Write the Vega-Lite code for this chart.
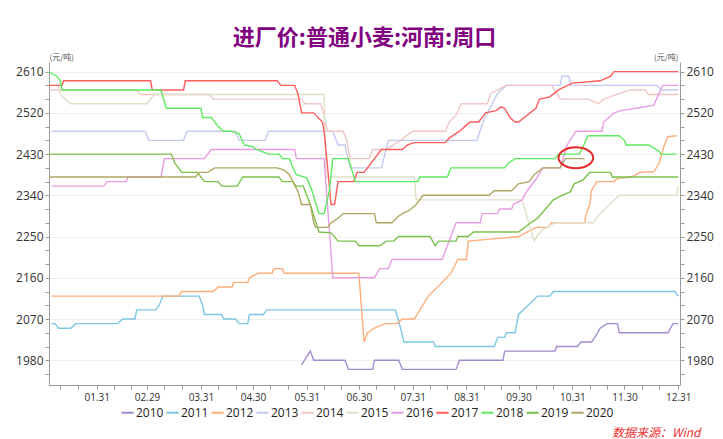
{
"$schema": "https://vega.github.io/schema/vega-lite/v6.json",
"width": 631, "height": 323,
"autosize": {"type": "none"},
"padding": {"left": 49, "top": 62, "right": 43, "bottom": 54},
"background": "white",
"title": {"text": "进厂价:普通小麦:河南:周口", "font": "Noto Sans CJK SC", "fontSize": 22, "fontWeight": "bold", "color": "#800080", "anchor": "middle", "offset": 3},
"config": {"view": {"stroke": null}, "font": "Open Sans",
  "axis": {"domainColor": "#9a9a9a", "tickColor": "#9a9a9a", "labelColor": "#333333", "labelFont": "Open Sans", "labelOverlap": false, "labelFlush": false, "labelBound": false}},
"datasets": {
"lines": [
{"s":"2010","d":"2020-05-28","v":1970},{"s":"2010","d":"2020-06-02","v":2000},{"s":"2010","d":"2020-06-04","v":1980},{"s":"2010","d":"2020-06-22","v":1980},{"s":"2010","d":"2020-06-24","v":1960},{"s":"2010","d":"2020-07-08","v":1960},{"s":"2010","d":"2020-07-09","v":1980},{"s":"2010","d":"2020-07-23","v":1980},{"s":"2010","d":"2020-07-25","v":1960},{"s":"2010","d":"2020-08-25","v":1960},{"s":"2010","d":"2020-08-27","v":1980},{"s":"2010","d":"2020-09-21","v":1980},{"s":"2010","d":"2020-09-22","v":2000},{"s":"2010","d":"2020-10-21","v":2000},{"s":"2010","d":"2020-10-22","v":2010},{"s":"2010","d":"2020-11-03","v":2010},{"s":"2010","d":"2020-11-05","v":2020},{"s":"2010","d":"2020-11-11","v":2020},{"s":"2010","d":"2020-11-13","v":2030},{"s":"2010","d":"2020-11-16","v":2050},{"s":"2010","d":"2020-11-20","v":2060},{"s":"2010","d":"2020-11-26","v":2060},{"s":"2010","d":"2020-11-27","v":2040},{"s":"2010","d":"2020-12-25","v":2040},{"s":"2010","d":"2020-12-28","v":2060},{"s":"2010","d":"2020-12-31","v":2060},
{"s":"2011","d":"2020-01-05","v":2060},{"s":"2011","d":"2020-01-07","v":2060},{"s":"2011","d":"2020-01-09","v":2050},{"s":"2011","d":"2020-01-16","v":2050},{"s":"2011","d":"2020-01-19","v":2060},{"s":"2011","d":"2020-02-12","v":2060},{"s":"2011","d":"2020-02-15","v":2070},{"s":"2011","d":"2020-02-22","v":2070},{"s":"2011","d":"2020-02-23","v":2090},{"s":"2011","d":"2020-03-05","v":2090},{"s":"2011","d":"2020-03-07","v":2100},{"s":"2011","d":"2020-03-09","v":2120},{"s":"2011","d":"2020-03-30","v":2120},{"s":"2011","d":"2020-04-01","v":2100},{"s":"2011","d":"2020-04-02","v":2080},{"s":"2011","d":"2020-04-12","v":2080},{"s":"2011","d":"2020-04-13","v":2070},{"s":"2011","d":"2020-04-20","v":2070},{"s":"2011","d":"2020-04-22","v":2060},{"s":"2011","d":"2020-04-27","v":2060},{"s":"2011","d":"2020-04-28","v":2080},{"s":"2011","d":"2020-05-06","v":2080},{"s":"2011","d":"2020-05-08","v":2090},{"s":"2011","d":"2020-07-21","v":2090},{"s":"2011","d":"2020-07-23","v":2065},{"s":"2011","d":"2020-07-26","v":2020},{"s":"2011","d":"2020-08-12","v":2020},{"s":"2011","d":"2020-08-13","v":2010},{"s":"2011","d":"2020-09-16","v":2010},{"s":"2011","d":"2020-09-18","v":2030},{"s":"2011","d":"2020-09-22","v":2030},{"s":"2011","d":"2020-09-23","v":2040},{"s":"2011","d":"2020-09-28","v":2040},{"s":"2011","d":"2020-09-30","v":2080},{"s":"2011","d":"2020-10-11","v":2120},{"s":"2011","d":"2020-10-18","v":2120},{"s":"2011","d":"2020-10-20","v":2130},{"s":"2011","d":"2020-12-29","v":2130},{"s":"2011","d":"2020-12-31","v":2120},
{"s":"2012","d":"2020-01-05","v":2120},{"s":"2012","d":"2020-03-18","v":2120},{"s":"2012","d":"2020-03-20","v":2130},{"s":"2012","d":"2020-04-07","v":2130},{"s":"2012","d":"2020-04-10","v":2140},{"s":"2012","d":"2020-04-18","v":2140},{"s":"2012","d":"2020-04-19","v":2150},{"s":"2012","d":"2020-04-27","v":2150},{"s":"2012","d":"2020-04-28","v":2160},{"s":"2012","d":"2020-05-03","v":2170},{"s":"2012","d":"2020-05-11","v":2170},{"s":"2012","d":"2020-05-12","v":2180},{"s":"2012","d":"2020-05-17","v":2180},{"s":"2012","d":"2020-05-18","v":2170},{"s":"2012","d":"2020-06-30","v":2170},{"s":"2012","d":"2020-07-03","v":2020},{"s":"2012","d":"2020-07-05","v":2040},{"s":"2012","d":"2020-07-09","v":2050},{"s":"2012","d":"2020-07-15","v":2060},{"s":"2012","d":"2020-07-22","v":2060},{"s":"2012","d":"2020-07-25","v":2070},{"s":"2012","d":"2020-08-01","v":2070},{"s":"2012","d":"2020-08-09","v":2120},{"s":"2012","d":"2020-08-17","v":2150},{"s":"2012","d":"2020-08-22","v":2170},{"s":"2012","d":"2020-08-26","v":2200},{"s":"2012","d":"2020-08-31","v":2200},{"s":"2012","d":"2020-09-01","v":2240},{"s":"2012","d":"2020-09-30","v":2250},{"s":"2012","d":"2020-10-10","v":2270},{"s":"2012","d":"2020-10-17","v":2270},{"s":"2012","d":"2020-10-19","v":2280},{"s":"2012","d":"2020-11-07","v":2280},{"s":"2012","d":"2020-11-08","v":2300},{"s":"2012","d":"2020-11-10","v":2320},{"s":"2012","d":"2020-11-11","v":2350},{"s":"2012","d":"2020-11-14","v":2370},{"s":"2012","d":"2020-11-24","v":2370},{"s":"2012","d":"2020-11-26","v":2377},{"s":"2012","d":"2020-12-04","v":2380},{"s":"2012","d":"2020-12-09","v":2390},{"s":"2012","d":"2020-12-17","v":2392},{"s":"2012","d":"2020-12-20","v":2410},{"s":"2012","d":"2020-12-23","v":2450},{"s":"2012","d":"2020-12-25","v":2468},{"s":"2012","d":"2020-12-30","v":2470},
{"s":"2013","d":"2020-01-05","v":2480},{"s":"2013","d":"2020-02-28","v":2480},{"s":"2013","d":"2020-03-01","v":2460},{"s":"2013","d":"2020-03-21","v":2460},{"s":"2013","d":"2020-03-23","v":2480},{"s":"2013","d":"2020-04-20","v":2480},{"s":"2013","d":"2020-04-22","v":2460},{"s":"2013","d":"2020-05-07","v":2460},{"s":"2013","d":"2020-05-09","v":2480},{"s":"2013","d":"2020-06-15","v":2480},{"s":"2013","d":"2020-06-18","v":2450},{"s":"2013","d":"2020-06-22","v":2450},{"s":"2013","d":"2020-06-25","v":2400},{"s":"2013","d":"2020-07-13","v":2400},{"s":"2013","d":"2020-07-17","v":2460},{"s":"2013","d":"2020-09-06","v":2460},{"s":"2013","d":"2020-09-10","v":2505},{"s":"2013","d":"2020-09-18","v":2563},{"s":"2013","d":"2020-09-23","v":2580},{"s":"2013","d":"2020-10-24","v":2580},{"s":"2013","d":"2020-10-25","v":2600},{"s":"2013","d":"2020-10-29","v":2600},{"s":"2013","d":"2020-10-30","v":2580},{"s":"2013","d":"2020-12-19","v":2580},{"s":"2013","d":"2020-12-21","v":2570},{"s":"2013","d":"2020-12-31","v":2570},
{"s":"2014","d":"2020-01-03","v":2570},{"s":"2014","d":"2020-02-23","v":2570},{"s":"2014","d":"2020-02-25","v":2560},{"s":"2014","d":"2020-04-05","v":2560},{"s":"2014","d":"2020-04-07","v":2550},{"s":"2014","d":"2020-05-28","v":2550},{"s":"2014","d":"2020-05-30","v":2540},{"s":"2014","d":"2020-06-08","v":2540},{"s":"2014","d":"2020-06-10","v":2515},{"s":"2014","d":"2020-06-12","v":2480},{"s":"2014","d":"2020-06-21","v":2480},{"s":"2014","d":"2020-06-23","v":2460},{"s":"2014","d":"2020-06-25","v":2420},{"s":"2014","d":"2020-07-06","v":2420},{"s":"2014","d":"2020-07-08","v":2440},{"s":"2014","d":"2020-07-16","v":2440},{"s":"2014","d":"2020-07-24","v":2460},{"s":"2014","d":"2020-07-31","v":2480},{"s":"2014","d":"2020-08-19","v":2480},{"s":"2014","d":"2020-08-21","v":2500},{"s":"2014","d":"2020-08-25","v":2515},{"s":"2014","d":"2020-08-28","v":2540},{"s":"2014","d":"2020-09-12","v":2540},{"s":"2014","d":"2020-09-14","v":2563},{"s":"2014","d":"2020-09-23","v":2580},{"s":"2014","d":"2020-10-19","v":2580},{"s":"2014","d":"2020-10-24","v":2550},{"s":"2014","d":"2020-11-09","v":2550},{"s":"2014","d":"2020-11-15","v":2540},{"s":"2014","d":"2020-11-18","v":2550},{"s":"2014","d":"2020-12-03","v":2570},{"s":"2014","d":"2020-12-12","v":2570},{"s":"2014","d":"2020-12-14","v":2560},{"s":"2014","d":"2020-12-31","v":2560},
{"s":"2015","d":"2020-01-03","v":2580},{"s":"2015","d":"2020-01-09","v":2580},{"s":"2015","d":"2020-01-10","v":2560},{"s":"2015","d":"2020-01-16","v":2540},{"s":"2015","d":"2020-02-29","v":2540},{"s":"2015","d":"2020-03-04","v":2560},{"s":"2015","d":"2020-06-10","v":2560},{"s":"2015","d":"2020-06-11","v":2380},{"s":"2015","d":"2020-08-01","v":2380},{"s":"2015","d":"2020-08-02","v":2330},{"s":"2015","d":"2020-10-02","v":2330},{"s":"2015","d":"2020-10-09","v":2240},{"s":"2015","d":"2020-10-11","v":2253},{"s":"2015","d":"2020-10-14","v":2265},{"s":"2015","d":"2020-10-17","v":2272},{"s":"2015","d":"2020-10-21","v":2280},{"s":"2015","d":"2020-11-12","v":2280},{"s":"2015","d":"2020-11-16","v":2300},{"s":"2015","d":"2020-11-27","v":2340},{"s":"2015","d":"2020-12-30","v":2340},{"s":"2015","d":"2020-12-31","v":2360},
{"s":"2016","d":"2020-01-05","v":2360},{"s":"2016","d":"2020-02-04","v":2360},{"s":"2016","d":"2020-02-06","v":2370},{"s":"2016","d":"2020-02-17","v":2370},{"s":"2016","d":"2020-02-18","v":2380},{"s":"2016","d":"2020-03-08","v":2380},{"s":"2016","d":"2020-03-10","v":2420},{"s":"2016","d":"2020-04-02","v":2420},{"s":"2016","d":"2020-04-06","v":2440},{"s":"2016","d":"2020-05-24","v":2440},{"s":"2016","d":"2020-05-25","v":2420},{"s":"2016","d":"2020-06-10","v":2420},{"s":"2016","d":"2020-06-15","v":2160},{"s":"2016","d":"2020-07-09","v":2160},{"s":"2016","d":"2020-07-12","v":2180},{"s":"2016","d":"2020-07-17","v":2180},{"s":"2016","d":"2020-07-19","v":2200},{"s":"2016","d":"2020-08-17","v":2200},{"s":"2016","d":"2020-08-19","v":2220},{"s":"2016","d":"2020-08-25","v":2280},{"s":"2016","d":"2020-09-08","v":2280},{"s":"2016","d":"2020-09-09","v":2300},{"s":"2016","d":"2020-09-18","v":2300},{"s":"2016","d":"2020-09-19","v":2310},{"s":"2016","d":"2020-09-26","v":2310},{"s":"2016","d":"2020-09-27","v":2320},{"s":"2016","d":"2020-10-02","v":2330},{"s":"2016","d":"2020-10-05","v":2350},{"s":"2016","d":"2020-10-10","v":2375},{"s":"2016","d":"2020-10-14","v":2400},{"s":"2016","d":"2020-10-24","v":2400},{"s":"2016","d":"2020-10-28","v":2450},{"s":"2016","d":"2020-11-02","v":2480},{"s":"2016","d":"2020-11-17","v":2480},{"s":"2016","d":"2020-11-18","v":2500},{"s":"2016","d":"2020-11-24","v":2520},{"s":"2016","d":"2020-11-28","v":2525},{"s":"2016","d":"2020-12-07","v":2530},{"s":"2016","d":"2020-12-17","v":2537},{"s":"2016","d":"2020-12-19","v":2555},{"s":"2016","d":"2020-12-22","v":2580},{"s":"2016","d":"2020-12-31","v":2580},
{"s":"2017","d":"2020-01-03","v":2580},{"s":"2017","d":"2020-01-11","v":2580},{"s":"2017","d":"2020-01-12","v":2590},{"s":"2017","d":"2020-03-02","v":2590},{"s":"2017","d":"2020-03-03","v":2570},{"s":"2017","d":"2020-03-21","v":2570},{"s":"2017","d":"2020-03-22","v":2590},{"s":"2017","d":"2020-05-14","v":2590},{"s":"2017","d":"2020-05-16","v":2580},{"s":"2017","d":"2020-05-24","v":2580},{"s":"2017","d":"2020-05-26","v":2560},{"s":"2017","d":"2020-05-28","v":2520},{"s":"2017","d":"2020-06-04","v":2520},{"s":"2017","d":"2020-06-09","v":2500},{"s":"2017","d":"2020-06-10","v":2480},{"s":"2017","d":"2020-06-14","v":2320},{"s":"2017","d":"2020-06-16","v":2320},{"s":"2017","d":"2020-06-18","v":2370},{"s":"2017","d":"2020-06-27","v":2370},{"s":"2017","d":"2020-06-29","v":2390},{"s":"2017","d":"2020-07-03","v":2390},{"s":"2017","d":"2020-07-07","v":2410},{"s":"2017","d":"2020-07-10","v":2425},{"s":"2017","d":"2020-07-13","v":2440},{"s":"2017","d":"2020-07-25","v":2440},{"s":"2017","d":"2020-07-28","v":2450},{"s":"2017","d":"2020-08-01","v":2455},{"s":"2017","d":"2020-08-19","v":2455},{"s":"2017","d":"2020-08-21","v":2465},{"s":"2017","d":"2020-08-27","v":2480},{"s":"2017","d":"2020-08-30","v":2490},{"s":"2017","d":"2020-09-02","v":2500},{"s":"2017","d":"2020-09-07","v":2500},{"s":"2017","d":"2020-09-11","v":2520},{"s":"2017","d":"2020-09-17","v":2525},{"s":"2017","d":"2020-09-20","v":2533},{"s":"2017","d":"2020-09-22","v":2530},{"s":"2017","d":"2020-09-25","v":2510},{"s":"2017","d":"2020-09-28","v":2500},{"s":"2017","d":"2020-09-30","v":2500},{"s":"2017","d":"2020-10-10","v":2530},{"s":"2017","d":"2020-10-12","v":2550},{"s":"2017","d":"2020-10-18","v":2555},{"s":"2017","d":"2020-10-23","v":2570},{"s":"2017","d":"2020-10-31","v":2585},{"s":"2017","d":"2020-11-16","v":2590},{"s":"2017","d":"2020-11-22","v":2600},{"s":"2017","d":"2020-11-24","v":2610},{"s":"2017","d":"2020-12-31","v":2610},
{"s":"2018","d":"2020-01-03","v":2610},{"s":"2018","d":"2020-01-08","v":2600},{"s":"2018","d":"2020-01-10","v":2590},{"s":"2018","d":"2020-01-11","v":2570},{"s":"2018","d":"2020-03-08","v":2570},{"s":"2018","d":"2020-03-11","v":2530},{"s":"2018","d":"2020-03-31","v":2530},{"s":"2018","d":"2020-04-01","v":2510},{"s":"2018","d":"2020-04-06","v":2510},{"s":"2018","d":"2020-04-10","v":2490},{"s":"2018","d":"2020-04-13","v":2480},{"s":"2018","d":"2020-04-17","v":2480},{"s":"2018","d":"2020-04-22","v":2475},{"s":"2018","d":"2020-04-25","v":2450},{"s":"2018","d":"2020-04-30","v":2446},{"s":"2018","d":"2020-05-02","v":2440},{"s":"2018","d":"2020-05-09","v":2430},{"s":"2018","d":"2020-05-15","v":2430},{"s":"2018","d":"2020-05-17","v":2420},{"s":"2018","d":"2020-05-21","v":2420},{"s":"2018","d":"2020-05-23","v":2400},{"s":"2018","d":"2020-05-25","v":2385},{"s":"2018","d":"2020-05-31","v":2378},{"s":"2018","d":"2020-06-03","v":2350},{"s":"2018","d":"2020-06-07","v":2300},{"s":"2018","d":"2020-06-10","v":2300},{"s":"2018","d":"2020-06-13","v":2350},{"s":"2018","d":"2020-06-15","v":2420},{"s":"2018","d":"2020-06-24","v":2420},{"s":"2018","d":"2020-06-28","v":2370},{"s":"2018","d":"2020-08-03","v":2370},{"s":"2018","d":"2020-08-04","v":2380},{"s":"2018","d":"2020-08-20","v":2380},{"s":"2018","d":"2020-08-22","v":2400},{"s":"2018","d":"2020-09-22","v":2400},{"s":"2018","d":"2020-09-24","v":2410},{"s":"2018","d":"2020-09-28","v":2420},{"s":"2018","d":"2020-10-21","v":2420},{"s":"2018","d":"2020-10-23","v":2430},{"s":"2018","d":"2020-11-04","v":2430},{"s":"2018","d":"2020-11-06","v":2445},{"s":"2018","d":"2020-11-09","v":2470},{"s":"2018","d":"2020-11-27","v":2470},{"s":"2018","d":"2020-11-30","v":2460},{"s":"2018","d":"2020-12-01","v":2450},{"s":"2018","d":"2020-12-14","v":2450},{"s":"2018","d":"2020-12-20","v":2436},{"s":"2018","d":"2020-12-21","v":2430},{"s":"2018","d":"2020-12-30","v":2430},
{"s":"2019","d":"2020-01-03","v":2430},{"s":"2019","d":"2020-03-14","v":2430},{"s":"2019","d":"2020-03-16","v":2410},{"s":"2019","d":"2020-03-20","v":2390},{"s":"2019","d":"2020-03-29","v":2390},{"s":"2019","d":"2020-03-31","v":2380},{"s":"2019","d":"2020-04-02","v":2370},{"s":"2019","d":"2020-04-10","v":2370},{"s":"2019","d":"2020-04-12","v":2360},{"s":"2019","d":"2020-04-21","v":2360},{"s":"2019","d":"2020-04-24","v":2380},{"s":"2019","d":"2020-05-15","v":2380},{"s":"2019","d":"2020-05-17","v":2370},{"s":"2019","d":"2020-05-23","v":2370},{"s":"2019","d":"2020-05-25","v":2360},{"s":"2019","d":"2020-05-29","v":2360},{"s":"2019","d":"2020-06-02","v":2320},{"s":"2019","d":"2020-06-07","v":2260},{"s":"2019","d":"2020-06-14","v":2258},{"s":"2019","d":"2020-06-18","v":2240},{"s":"2019","d":"2020-06-28","v":2240},{"s":"2019","d":"2020-06-30","v":2230},{"s":"2019","d":"2020-07-12","v":2230},{"s":"2019","d":"2020-07-16","v":2240},{"s":"2019","d":"2020-07-20","v":2240},{"s":"2019","d":"2020-07-23","v":2250},{"s":"2019","d":"2020-08-10","v":2250},{"s":"2019","d":"2020-08-13","v":2230},{"s":"2019","d":"2020-08-15","v":2240},{"s":"2019","d":"2020-08-25","v":2240},{"s":"2019","d":"2020-08-26","v":2250},{"s":"2019","d":"2020-09-01","v":2250},{"s":"2019","d":"2020-09-04","v":2260},{"s":"2019","d":"2020-09-30","v":2260},{"s":"2019","d":"2020-10-07","v":2280},{"s":"2019","d":"2020-10-11","v":2290},{"s":"2019","d":"2020-10-20","v":2330},{"s":"2019","d":"2020-10-25","v":2340},{"s":"2019","d":"2020-10-30","v":2348},{"s":"2019","d":"2020-11-01","v":2365},{"s":"2019","d":"2020-11-06","v":2373},{"s":"2019","d":"2020-11-10","v":2390},{"s":"2019","d":"2020-11-22","v":2390},{"s":"2019","d":"2020-11-23","v":2380},{"s":"2019","d":"2020-12-31","v":2380},
{"s":"2020","d":"2020-01-03","v":2380},{"s":"2020","d":"2020-03-28","v":2380},{"s":"2020","d":"2020-03-30","v":2390},{"s":"2020","d":"2020-04-04","v":2390},{"s":"2020","d":"2020-04-08","v":2400},{"s":"2020","d":"2020-05-14","v":2400},{"s":"2020","d":"2020-05-18","v":2395},{"s":"2020","d":"2020-05-21","v":2385},{"s":"2020","d":"2020-05-24","v":2362},{"s":"2020","d":"2020-05-26","v":2348},{"s":"2020","d":"2020-05-28","v":2320},{"s":"2020","d":"2020-06-02","v":2320},{"s":"2020","d":"2020-06-04","v":2280},{"s":"2020","d":"2020-06-05","v":2270},{"s":"2020","d":"2020-06-12","v":2270},{"s":"2020","d":"2020-06-14","v":2280},{"s":"2020","d":"2020-06-18","v":2290},{"s":"2020","d":"2020-06-21","v":2300},{"s":"2020","d":"2020-07-09","v":2300},{"s":"2020","d":"2020-07-10","v":2280},{"s":"2020","d":"2020-07-19","v":2280},{"s":"2020","d":"2020-07-23","v":2295},{"s":"2020","d":"2020-07-25","v":2300},{"s":"2020","d":"2020-07-29","v":2307},{"s":"2020","d":"2020-08-02","v":2320},{"s":"2020","d":"2020-08-06","v":2340},{"s":"2020","d":"2020-09-13","v":2340},{"s":"2020","d":"2020-09-16","v":2350},{"s":"2020","d":"2020-09-26","v":2350},{"s":"2020","d":"2020-09-30","v":2365},{"s":"2020","d":"2020-10-06","v":2370},{"s":"2020","d":"2020-10-09","v":2385},{"s":"2020","d":"2020-10-14","v":2400},{"s":"2020","d":"2020-10-24","v":2400},{"s":"2020","d":"2020-10-27","v":2420},{"s":"2020","d":"2020-11-07","v":2420}
],
"note": [{"d":"2020-11-02","v":2422}]
},
"layer": [
{"data": {"name": "lines"},
 "mark": {"type": "line", "strokeWidth": 1.4, "clip": true},
 "encoding": {
  "x": {"field": "d", "type": "temporal",
   "scale": {"type": "utc", "domain": [{"year":2020,"month":1,"date":3,"hours":12,"utc":true},{"year":2021,"month":1,"date":1,"utc":true}]},
   "axis": {"format": "%m.%d", "labelFontSize": 10, "labelPadding": 3, "ticks": true, "tickSize": 4, "labelOverlap": false, "labelFlush": false, "labelBound": false,
     "values": [{"year":2020,"month":1,"date":10,"utc":true},{"year":2020,"month":1,"date":20,"utc":true},{"year":2020,"month":1,"date":31,"utc":true},{"year":2020,"month":2,"date":10,"utc":true},{"year":2020,"month":2,"date":20,"utc":true},{"year":2020,"month":2,"date":29,"utc":true},{"year":2020,"month":3,"date":10,"utc":true},{"year":2020,"month":3,"date":20,"utc":true},{"year":2020,"month":3,"date":31,"utc":true},{"year":2020,"month":4,"date":10,"utc":true},{"year":2020,"month":4,"date":20,"utc":true},{"year":2020,"month":4,"date":30,"utc":true},{"year":2020,"month":5,"date":10,"utc":true},{"year":2020,"month":5,"date":20,"utc":true},{"year":2020,"month":5,"date":31,"utc":true},{"year":2020,"month":6,"date":10,"utc":true},{"year":2020,"month":6,"date":20,"utc":true},{"year":2020,"month":6,"date":30,"utc":true},{"year":2020,"month":7,"date":10,"utc":true},{"year":2020,"month":7,"date":20,"utc":true},{"year":2020,"month":7,"date":31,"utc":true},{"year":2020,"month":8,"date":10,"utc":true},{"year":2020,"month":8,"date":20,"utc":true},{"year":2020,"month":8,"date":31,"utc":true},{"year":2020,"month":9,"date":10,"utc":true},{"year":2020,"month":9,"date":20,"utc":true},{"year":2020,"month":9,"date":30,"utc":true},{"year":2020,"month":10,"date":10,"utc":true},{"year":2020,"month":10,"date":20,"utc":true},{"year":2020,"month":10,"date":31,"utc":true},{"year":2020,"month":11,"date":10,"utc":true},{"year":2020,"month":11,"date":20,"utc":true},{"year":2020,"month":11,"date":30,"utc":true},{"year":2020,"month":12,"date":10,"utc":true},{"year":2020,"month":12,"date":20,"utc":true},{"year":2020,"month":12,"date":31,"utc":true}],
     "labelExpr": "utcdate(datum.value) > 25 ? datum.label : ''",
     "grid": false,
     "title": "数据来源：Wind", "titleFont": "Noto Sans CJK SC", "titleFontSize": 12, "titleFontWeight": "normal", "titleFontStyle": "italic", "titleColor": "#f03030",
     "titleAlign": "right", "titleBaseline": "middle", "titleX": 651, "titleY": 47}},
  "y": {"field": "v", "type": "quantitative",
   "scale": {"domain": [1926, 2631], "nice": false, "zero": false},
   "axis": {"orient": "left", "values": [1950,1980,2010,2040,2070,2100,2130,2160,2190,2220,2250,2280,2310,2340,2370,2400,2430,2460,2490,2520,2550,2580,2610],
     "labelExpr": "(datum.value - 1980) % 90 == 0 ? datum.label : ''", "format": "d", "labelFontSize": 12, "tickSize": 4, "labelPadding": 2,
     "grid": true, "gridColor": "#efefef", "gridOpacity": {"condition": {"test": "(datum.value - 1980) % 90 == 0", "value": 1}, "value": 0},
     "title": "(元/吨)", "titleFont": "Noto Sans CJK SC", "titleFontSize": 8, "titleFontWeight": "normal", "titleColor": "#555555",
     "titleAngle": 0, "titleAlign": "left", "titleBaseline": "middle", "titleX": 0, "titleY": -5}},
  "color": {"field": "s", "type": "nominal",
   "scale": {"domain": ["2010","2011","2012","2013","2014","2015","2016","2017","2018","2019","2020"],
     "range": ["#a38bcf","#7cc6e2","#ffad7a","#c3cbef","#efc6c6","#dfdfc8","#e89de2","#ff5c5c","#5eea5e","#7bc24c","#b0a862"]},
   "legend": {"orient": "none", "legendX": 71, "legendY": 343, "direction": "horizontal", "columns": 11, "title": null,
     "symbolType": "stroke", "symbolStrokeWidth": 2, "symbolSize": 150, "labelFontSize": 12, "labelFont": "Open Sans", "labelColor": "#222222",
     "columnPadding": -2, "labelOffset": 1}}
 }},
{"data": {"name": "note"},
 "mark": {"type": "point", "shape": "M -1 0 A 1 0.6 0 1 0 1 0 A 1 0.6 0 1 0 -1 0 Z", "size": 1200, "filled": false, "stroke": "#e52b2b", "strokeWidth": 2, "opacity": 1},
 "encoding": {
  "x": {"field": "d", "type": "temporal", "axis": null},
  "y": {"field": "v", "type": "quantitative",
   "axis": {"orient": "right", "values": [1950,1980,2010,2040,2070,2100,2130,2160,2190,2220,2250,2280,2310,2340,2370,2400,2430,2460,2490,2520,2550,2580,2610],
     "labelExpr": "(datum.value - 1980) % 90 == 0 ? datum.label : ''", "format": "d", "labelFontSize": 12, "tickSize": 4, "labelPadding": 2, "grid": false,
     "title": "(元/吨)", "titleFont": "Noto Sans CJK SC", "titleFontSize": 8, "titleFontWeight": "normal", "titleColor": "#555555",
     "titleAngle": 0, "titleAlign": "right", "titleBaseline": "middle", "titleX": -2, "titleY": -5}}
 }}
],
"resolve": {"axis": {"x": "independent", "y": "independent"}}
}
